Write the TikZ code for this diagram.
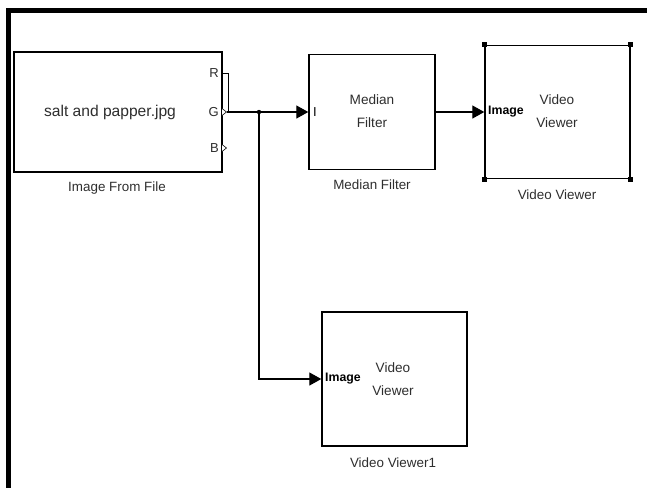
\documentclass[tikz,border=0pt]{standalone}
\usepackage{fontspec}
\setmainfont{Liberation Sans}
\usetikzlibrary{arrows.meta}
\definecolor{txt}{HTML}{2E2E2E}
\tikzset{
  blk/.style={draw=black, line width=1.4pt, rectangle, inner sep=0pt, fill=white},
  lbl/.style={text=txt, font=\fontsize{13.4}{16}\selectfont, inner sep=0pt},
  inner/.style={text=txt, font=\fontsize{13.6}{23}\selectfont, align=center, inner sep=0pt},
  port/.style={text=txt, font=\fontsize{13}{16}\selectfont, inner sep=0pt},
  inport/.style={text=black, font=\bfseries\fontsize{12.3}{16}\selectfont, inner sep=0pt},
  sig/.style={draw=black, line width=1.3pt},
  arr/.style={sig, -{Triangle[length=12pt,width=13pt]}},
  handle/.style={fill=black, minimum size=5pt, inner sep=0pt, rectangle},
  outport/.style={draw=black, line width=0.6pt, fill=white}
}
\begin{document}
\begin{tikzpicture}[x=1pt,y=-1pt]
\useasboundingbox (0,0) rectangle (647,488);
% frame
\draw[line width=5pt] (6,10) -- (647,10);
\draw[line width=5pt] (8.5,8) -- (8.5,488);

% blocks
\node[blk, minimum width=208pt, minimum height=120pt] (iff) at (118,112) {};
\node[blk, minimum width=126pt, minimum height=115pt] (mf) at (372,112) {};
\node[blk, minimum width=145pt, minimum height=133pt] (vv) at (557.5,112) {};
\node[blk, minimum width=145pt, minimum height=134pt] (vv1) at (394.5,379) {};

% selection handles on Video Viewer
\node[handle] (h1) at (vv.north west) {};
\node[handle] (h2) at (vv.north east) {};
\node[handle] (h3) at (vv.south west) {};
\node[handle] (h4) at (vv.south east) {};

% block texts
\node[inner, font=\fontsize{15.6}{18}\selectfont] (iftxt) at (110,112) {salt and papper.jpg};
\node[port, anchor=east] (pR) at (219,73) {R};
\node[port, anchor=east] (pG) at (219,112) {G};
\node[port, anchor=east] (pB) at (219,148) {B};
\node[inner] (mftxt) at (372,111.5) {Median\\Filter};
\node[inport, font=\fontsize{13}{16}\selectfont, anchor=west] (mfin) at (313,112) {I};
\node[inport, anchor=west] (vvin) at (488,112) {Image};
\node[inner] (vvtxt) at (557,111.5) {Video\\Viewer};
\node[inport, anchor=west] (vv1in) at (325,379) {Image};
\node[inner] (vv1txt) at (393,379) {Video\\Viewer};

% block labels
\node[lbl] (l1) at (117,188) {Image From File};
\node[lbl] (l2) at (372,185) {Median Filter};
\node[lbl] (l3) at (557,195) {Video Viewer};
\node[lbl] (l4) at (393,463) {Video Viewer1};

% output ports
\coordinate (gout) at (227,112);
\coordinate (rout) at (222,73);
\coordinate (rc) at (228,73);
\coordinate (gj) at (228,112);
\draw[outport] (222,108.5) -- (226.5,112) -- (222,115.5);
\draw[outport] (222,144.5) -- (226.5,148) -- (222,151.5);
\draw[sig, line width=0.9pt] (rout) -- (rc) -- (gj);

% connectors
\coordinate (jn) at (259,112);
\draw[arr] (gout) -- (mf.west);
\fill (jn) circle (2.2pt);
\draw[arr] (jn) |- (vv1.west);
\draw[arr] (mf.east) -- (vv.west);
\end{tikzpicture}
\end{document}
